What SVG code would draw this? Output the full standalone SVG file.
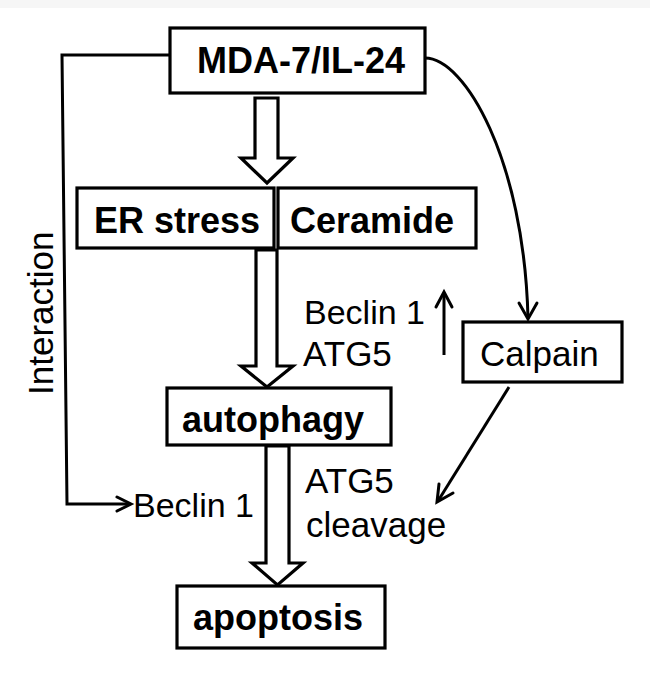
<svg xmlns="http://www.w3.org/2000/svg" width="650" height="675" viewBox="0 0 650 675">
  <style>
    .box { fill: #ffffff; stroke: #000000; stroke-width: 3.2; }
    .bold { font-family: "Liberation Sans", Arial, sans-serif; font-weight: bold; font-size: 36px; fill: #000000; }
    .reg { font-family: "Liberation Sans", Arial, sans-serif; font-size: 35px; fill: #000000; }
    .line { fill: none; stroke: #000000; stroke-width: 3; stroke-linejoin: miter; }
    .head { fill: none; stroke: #000000; stroke-width: 3; stroke-linecap: round; stroke-linejoin: miter; }
    .block { fill: #ffffff; stroke: #000000; stroke-width: 3.2; stroke-linejoin: miter; }
  </style>
  <rect x="0" y="0" width="650" height="675" fill="#ffffff"/>
  <rect x="0" y="0" width="650" height="8" fill="#f6f6f6"/>

  <g id="connectors">
    <!-- Interaction line -->
    <path class="line" d="M170,55 L62,55 L67,504 L130,504"/>
    <path class="head" d="M117,497 L131,504 L117,511"/>
    <!-- MDA-7 to Calpain curve -->
    <path class="line" d="M425,58 C465,58 524,160 528,318"/>
    <path class="head" d="M519,303 L528,319 L537,303"/>
    <!-- Calpain to ATG5 cleavage -->
    <path class="line" d="M509,387 L438,501"/>
    <path class="head" d="M439,484 L437,502 L453,493"/>
    <!-- Up arrow -->
    <path class="line" d="M444,355 L444,294"/>
    <path class="head" d="M436,307 L444,292 L452,307"/>
    <!-- Block arrows -->
    <polygon id="block1" class="block" points="255,98 278,98 278,158 293,158 267,183 241,158 255,158"/>
    <polygon id="block2" class="block" points="256,250 277,250 277,366 293,366 267,387 241,366 256,366"/>
    <polygon id="block3" class="block" points="266,446 289,446 289,563 303,563 277.5,585 252,563 266,563"/>
  </g>

  <g id="node-mda7">
    <rect class="box" x="170" y="28" width="255" height="65"/>
    <text class="bold" x="197" y="73">MDA-7/IL-24</text>
  </g>

  <g id="node-er-stress">
    <rect class="box" x="77" y="188" width="197" height="60"/>
    <text class="bold" x="94" y="233">ER stress</text>
  </g>

  <g id="node-ceramide">
    <rect class="box" x="278" y="188" width="198" height="60"/>
    <text class="bold" x="290" y="233">Ceramide</text>
  </g>

  <g id="node-autophagy">
    <rect class="box" x="167" y="388" width="224" height="57"/>
    <text class="bold" x="182" y="432">autophagy</text>
  </g>

  <g id="node-apoptosis">
    <rect class="box" x="177" y="586" width="208" height="62"/>
    <text class="bold" x="193" y="630">apoptosis</text>
  </g>

  <g id="node-calpain">
    <rect class="box" x="463" y="322" width="159" height="60"/>
    <text class="reg" x="480" y="366">Calpain</text>
  </g>

  <g id="labels">
    <text class="reg" x="53" y="395" transform="rotate(-90 53 395)">Interaction</text>
    <text class="reg" x="304" y="324" style="font-size:34px">Beclin 1</text>
    <text class="reg" x="303" y="366">ATG5</text>
    <text class="reg" x="133" y="517" style="font-size:34px">Beclin 1</text>
    <text class="reg" x="305" y="493">ATG5</text>
    <text class="reg" x="306" y="537">cleavage</text>
  </g>
</svg>
